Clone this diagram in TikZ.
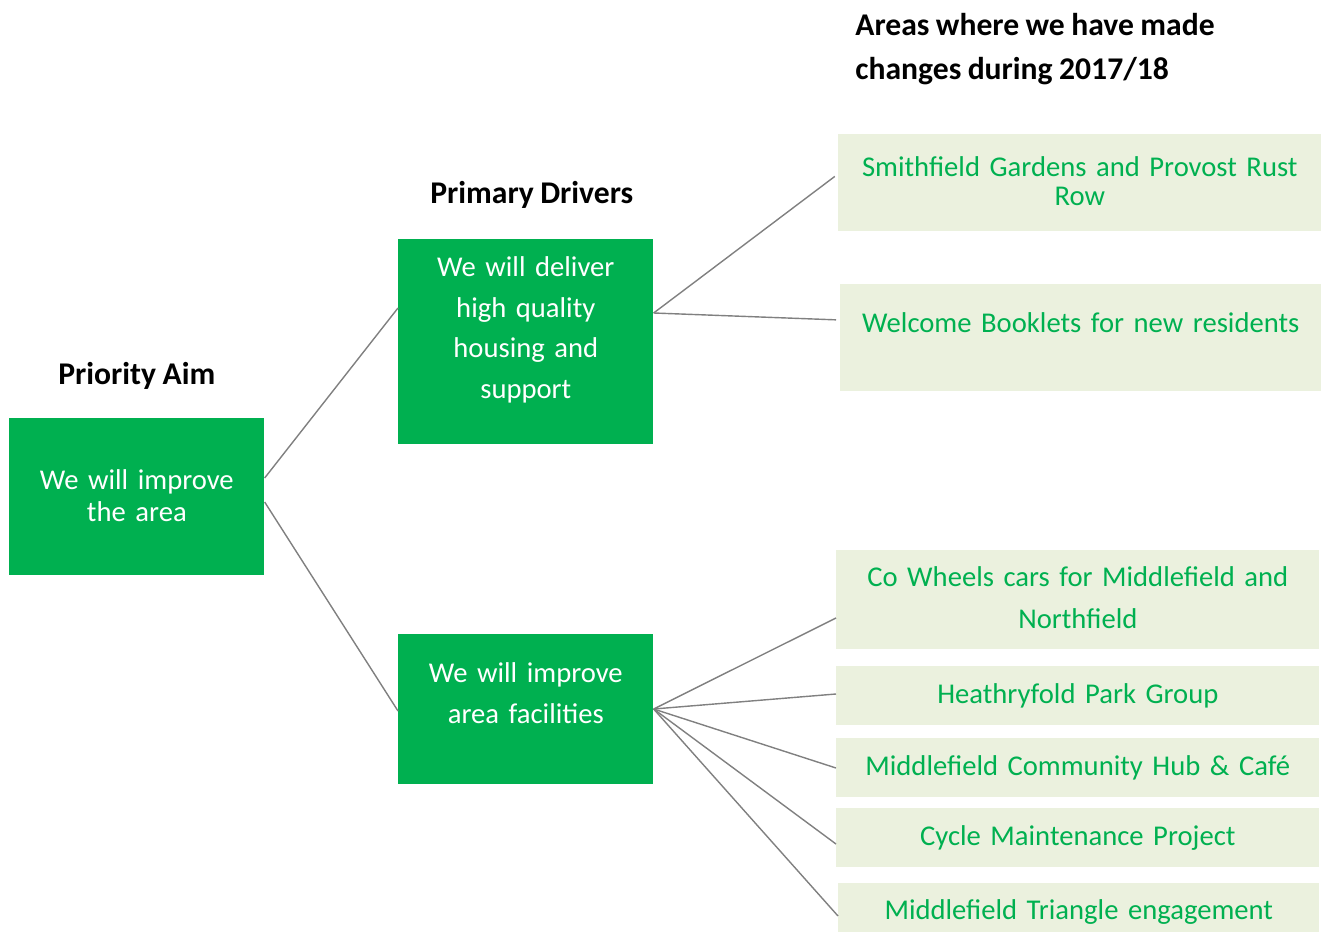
\documentclass[tikz,border=0pt]{standalone}
\usepackage{fontspec}
\setmainfont{Carlito}[WordSpace=0.9]
\usepackage{xcolor}
\usepackage{tikz}
\usetikzlibrary{positioning}

\definecolor{darkgreen}{HTML}{00B050}
\definecolor{palegreen}{HTML}{EBF1DE}
\definecolor{linegray}{HTML}{808080}

\tikzset{
  aimbox/.style={fill=darkgreen, text=white, inner sep=0pt, anchor=north west, align=center},
  areabox/.style={fill=palegreen, text=darkgreen, inner sep=0pt, anchor=north west, align=center},
  heading/.style={font=\bfseries\fontsize{18}{25.5}\selectfont, inner sep=0pt},
  link/.style={draw=linegray, line width=0.8pt}
}

\begin{document}
\begin{tikzpicture}[x=0.02cm, y=-0.02cm]
        \useasboundingbox (0,0) rectangle (1328,932);
        % priority aim and drivers
        \node[aimbox, text width=5.1cm, text height=1.42cm, text depth=1.72cm,
              font=\fontsize{16.3}{18.1}\selectfont] (aim) at (9,418) {We will improve\\the area};
        \node[aimbox, text width=5.1cm, text height=0.74cm, text depth=3.36cm,
              font=\fontsize{16.3}{23.2}\selectfont] (drv1) at (398,239) {We will deliver\\high quality\\housing and\\support};
        \node[aimbox, text width=5.1cm, text height=0.96cm, text depth=2.04cm,
              font=\fontsize{16.3}{23.2}\selectfont] (drv2) at (398,634) {We will improve\\area facilities};
        % areas changed
        \node[areabox, text width=9.66cm, text height=0.84cm, text depth=1.10cm,
              font=\fontsize{16.3}{16.4}\selectfont] (r1) at (838,134) {Smithfield Gardens and Provost Rust\\Row};
        \node[areabox, text width=9.62cm, text height=0.96cm, text depth=1.18cm,
              font=\fontsize{16.3}{20}\selectfont] (r2) at (840,284) {Welcome Booklets for new residents};
        \node[areabox, text width=9.66cm, text height=0.72cm, text depth=1.26cm,
              font=\fontsize{16.3}{23.8}\selectfont] (r3) at (836,550) {Co Wheels cars for Middlefield and\\Northfield};
        \node[areabox, text width=9.66cm, text height=0.74cm, text depth=0.44cm,
              font=\fontsize{16.3}{20}\selectfont] (r4) at (836,666) {Heathryfold Park Group};
        \node[areabox, text width=9.66cm, text height=0.74cm, text depth=0.44cm,
              font=\fontsize{16.3}{20}\selectfont] (r5) at (836,738) {Middlefield Community Hub \& Café};
        \node[areabox, text width=9.66cm, text height=0.74cm, text depth=0.44cm,
              font=\fontsize{16.3}{20}\selectfont] (r6) at (836,808) {Cycle Maintenance Project};
        \node[areabox, text width=9.62cm, text height=0.72cm, text depth=0.26cm,
              font=\fontsize{16.3}{20}\selectfont] (r7) at (838,883) {Middlefield Triangle engagement};
        % headings
        \node[heading, above=0.68cm of aim.north, anchor=base] (aimhead) {Priority Aim};
        \node[heading, above=0.72cm of drv1.north, anchor=base, xshift=0.12cm] (drvhead) {Primary Drivers};
        \node[heading, align=left, anchor=base west] (areahead) at (855,80) {Areas where we have made\\changes during 2017/18};
        % connectors
        \draw[link] (aim.east |- 0,478) -- (drv1.west |- 0,308);
        \draw[link] (aim.east |- 0,502) -- (drv2.west |- 0,711);
        \draw[link, shorten >=0.08cm] (drv1.east |- 0,313) -- (r1.west |- 0,174);
        \draw[link, shorten >=0.08cm] (drv1.east |- 0,313) -- (r2.west |- 0,320);
        \foreach \n/\y in {r3/618, r4/694, r5/768, r6/844, r7/916}
          \draw[link] (drv2.east |- 0,709) -- (\n.west |- 0,\y);
\end{tikzpicture}
\end{document}
